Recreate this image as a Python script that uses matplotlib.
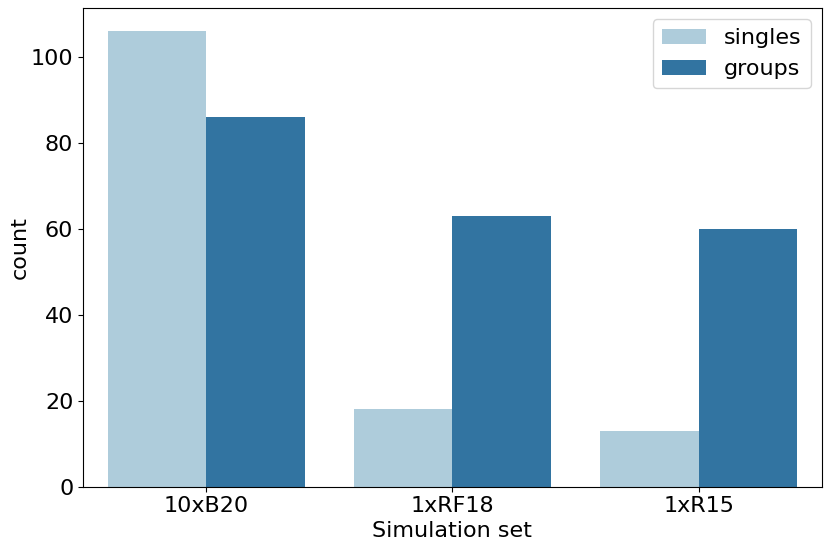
import matplotlib
matplotlib.use("Agg")
import matplotlib.pyplot as plt
import numpy as np
import seaborn as sns

categories = ["10xB20", "1xRF18", "1xR15"]
series_names = ["singles", "groups"]
singles = [106, 18, 13]
groups = [86, 63, 60]

pal = sns.color_palette("Paired", 2)
colors = [sns.desaturate(c, 0.75) for c in pal]

fig = plt.figure(figsize=(8.3, 5.5), dpi=100)
ax = fig.add_axes([0.1, 0.115, 0.89, 0.87])

x = np.arange(len(categories))
w = 0.4
ax.bar(x - w / 2, singles, width=w, color=colors[0], label=series_names[0])
ax.bar(x + w / 2, groups, width=w, color=colors[1], label=series_names[1])

ax.set_xlim(-0.5, len(categories) - 0.5)
ax.set_xticks(x)
ax.set_xticklabels(categories)
ax.tick_params(labelsize=16)
ax.set_xlabel("Simulation set", fontsize=16, labelpad=3)
ax.set_ylabel("count", fontsize=16, labelpad=1)
ax.legend(loc="upper right", fontsize=16)

fig.savefig("out.png", dpi=100)
